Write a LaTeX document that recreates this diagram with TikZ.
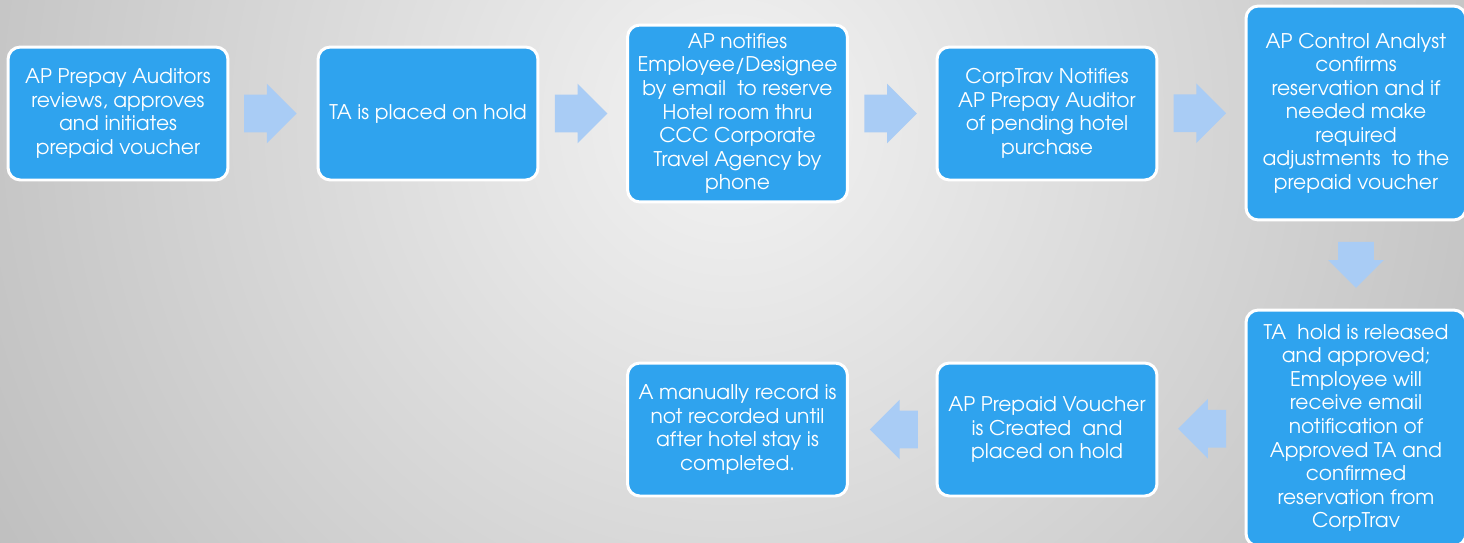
\documentclass[tikz,border=0pt]{standalone}
\usepackage{fontspec}
\setmainfont{texgyreadventor-regular.otf}
\usetikzlibrary{shapes.arrows,calc}

\definecolor{boxblue}{HTML}{2FA3EE}
\definecolor{arrowblue}{HTML}{A9CCF5}
\definecolor{bglight}{HTML}{F3F3F3}
\definecolor{bgdark}{HTML}{BCBCBC}

\begin{document}
\begin{tikzpicture}[
  x=0.02cm, y=-0.02cm,
  font=\fontsize{11.5}{13.4}\selectfont,
  stepbox/.style={draw=white, line width=1.7pt, fill=boxblue, text=white,
    rounded corners=7pt, minimum width=4.4cm, align=center, inner sep=2pt},
  flow/.style={single arrow, fill=arrowblue, draw=none, inner xsep=0pt,
    inner ysep=0.37cm, minimum height=1.05cm,
    single arrow head extend=0.22cm}
]
% backdrop
\path[use as bounding box] (0,0) rectangle (1464,542);
\clip (0,0) rectangle (1464,542);
\shade[inner color=bglight, outer color=bgdark] (730,120) circle (900);

% top row
\node[stepbox, minimum height=2.66cm] (audit) at (118,113.5)
  {AP Prepay Auditors\\reviews, approves\\and initiates\\prepaid voucher};
\node[stepbox, minimum height=2.66cm] (hold) at (428,113.5)
  {TA is placed on hold};
\node[stepbox, minimum height=3.54cm] (notify) at (737.5,113.5)
  {AP notifies\\Employee/Designee\\by email\ \ to reserve\\Hotel room thru\\CCC Corporate\\Travel Agency by\\phone};
\node[stepbox, minimum height=2.66cm] (corptrav) at (1047,113.5)
  {CorpTrav Notifies\\AP Prepay Auditor\\of pending hotel\\purchase};
\node[stepbox, minimum height=4.28cm] (confirm) at (1356,113)
  {AP Control Analyst\\confirms\\reservation and if\\needed make\\required\\adjustments\ \ to the\\prepaid voucher};

% bottom row
\node[stepbox, minimum height=4.72cm] (release) at (1356,428)
  {TA\ \ hold is released\\and approved;\\Employee will\\receive email\\notification of\\Approved TA and\\confirmed\\reservation from\\CorpTrav};
\node[stepbox, minimum height=2.66cm] (voucher) at (1047,429.5)
  {AP Prepaid Voucher\\is Created\ \ and\\placed on hold};
\node[stepbox, minimum height=2.66cm] (record) at (737.5,429.5)
  {A manually record is\\not recorded until\\after hotel stay is\\completed.};

% block arrows between steps (node centre sits off the tip, hence the nudges)
\node[flow] (a1) at ($(audit.east)!0.5!(hold.west) + (-12,0)$) {};
\node[flow] (a2) at ($(hold.east)!0.5!(notify.west) + (-11,0)$) {};
\node[flow] (a3) at ($(notify.east)!0.5!(corptrav.west) + (-11,0)$) {};
\node[flow] (a4) at ($(corptrav.east)!0.5!(confirm.west) + (-11,0)$) {};
\node[flow, rotate=-90, minimum height=0.92cm, inner ysep=0.35cm,
  single arrow head extend=0.2cm] (a5) at ($(confirm.south)!0.5!(release.north) + (0,-9)$) {};
\node[flow, rotate=180, minimum height=0.96cm] (a6) at ($(release.west)!0.5!(voucher.east) + (10,0)$) {};
\node[flow, rotate=180, minimum height=0.96cm] (a7) at ($(voucher.west)!0.5!(record.east) + (11,0)$) {};
\end{tikzpicture}
\end{document}
